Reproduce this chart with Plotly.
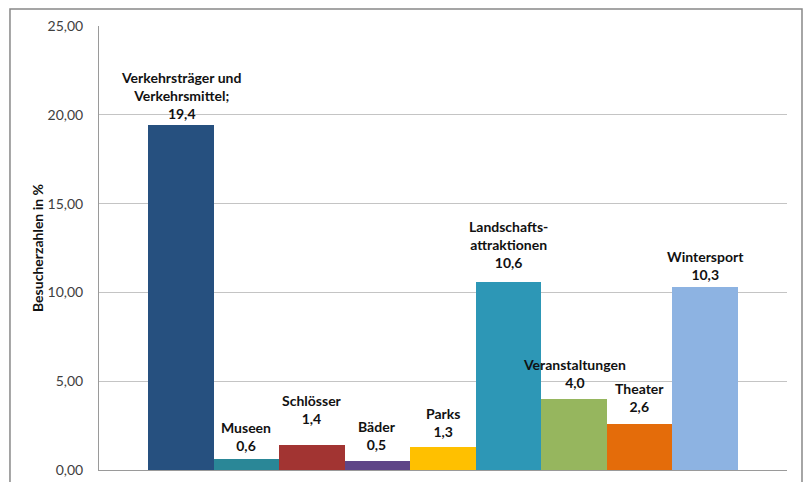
import plotly.graph_objects as go

categories = ["Verkehrsträger und<br>Verkehrsmittel;", "Museen", "Schlösser", "Bäder", "Parks",
              "Landschafts-<br>attraktionen", "Veranstaltungen", "Theater", "Wintersport"]
values = [19.4, 0.6, 1.4, 0.5, 1.3, 10.6, 4.0, 2.6, 10.3]
colors = ["#26507F", "#2A8797", "#A23432", "#5F4587", "#FFC000",
          "#2D97B6", "#96B65E", "#E46C0A", "#8DB3E2"]
label_shift = [1, 3, 16, 6, 5, 9, 6, 7, 2]
yticks = [0, 5, 10, 15, 20, 25]

x = list(range(len(values)))

fig = go.Figure()
fig.add_trace(go.Bar(
    x=x, y=values, width=1,
    marker=dict(color=colors, line=dict(width=0)),
    hoverinfo="skip", showlegend=False,
))

for i, (c, v) in enumerate(zip(categories, values)):
    fig.add_annotation(
        x=i, y=v, xref="x", yref="y",
        text=f"<b>{c}<br>{v:.1f}</b>".replace(".", ","),
        showarrow=False, yanchor="bottom", yshift=label_shift[i],
        font=dict(family="Lato", size=14, color="#111111"),
        align="center",
    )

# outer chart border
fig.add_shape(type="rect", xref="paper", yref="paper",
              x0=-0.1294, x1=1.0218, y0=-0.04, y1=1.0383,
              line=dict(color="#888888", width=1.5), fillcolor="rgba(0,0,0,0)", layer="below")

fig.update_layout(
    width=804, height=482,
    margin=dict(l=99, r=17, t=26, b=12),
    paper_bgcolor="white", plot_bgcolor="white",
    separators=",.",
    bargap=0,
    font=dict(family="Lato", size=14, color="#404040"),
    xaxis=dict(range=[-1.25, 9.25], showticklabels=False, showgrid=False, zeroline=False,
               showline=True, linecolor="#9a9a9a", linewidth=1, ticks="", automargin=False),
    yaxis=dict(range=[0, 25], tickvals=yticks, tickformat=".2f", automargin=False,
               showgrid=True, gridcolor="#c4c4c4", gridwidth=1, zeroline=False,
               showline=True, linecolor="#9a9a9a", linewidth=1, ticks="",
               ticklabelstandoff=12,
               title=dict(text="<b>Besucherzahlen in %</b>", standoff=0,
                          font=dict(family="Lato", size=14, color="#111111"))),
)

fig.write_html("out.html")
